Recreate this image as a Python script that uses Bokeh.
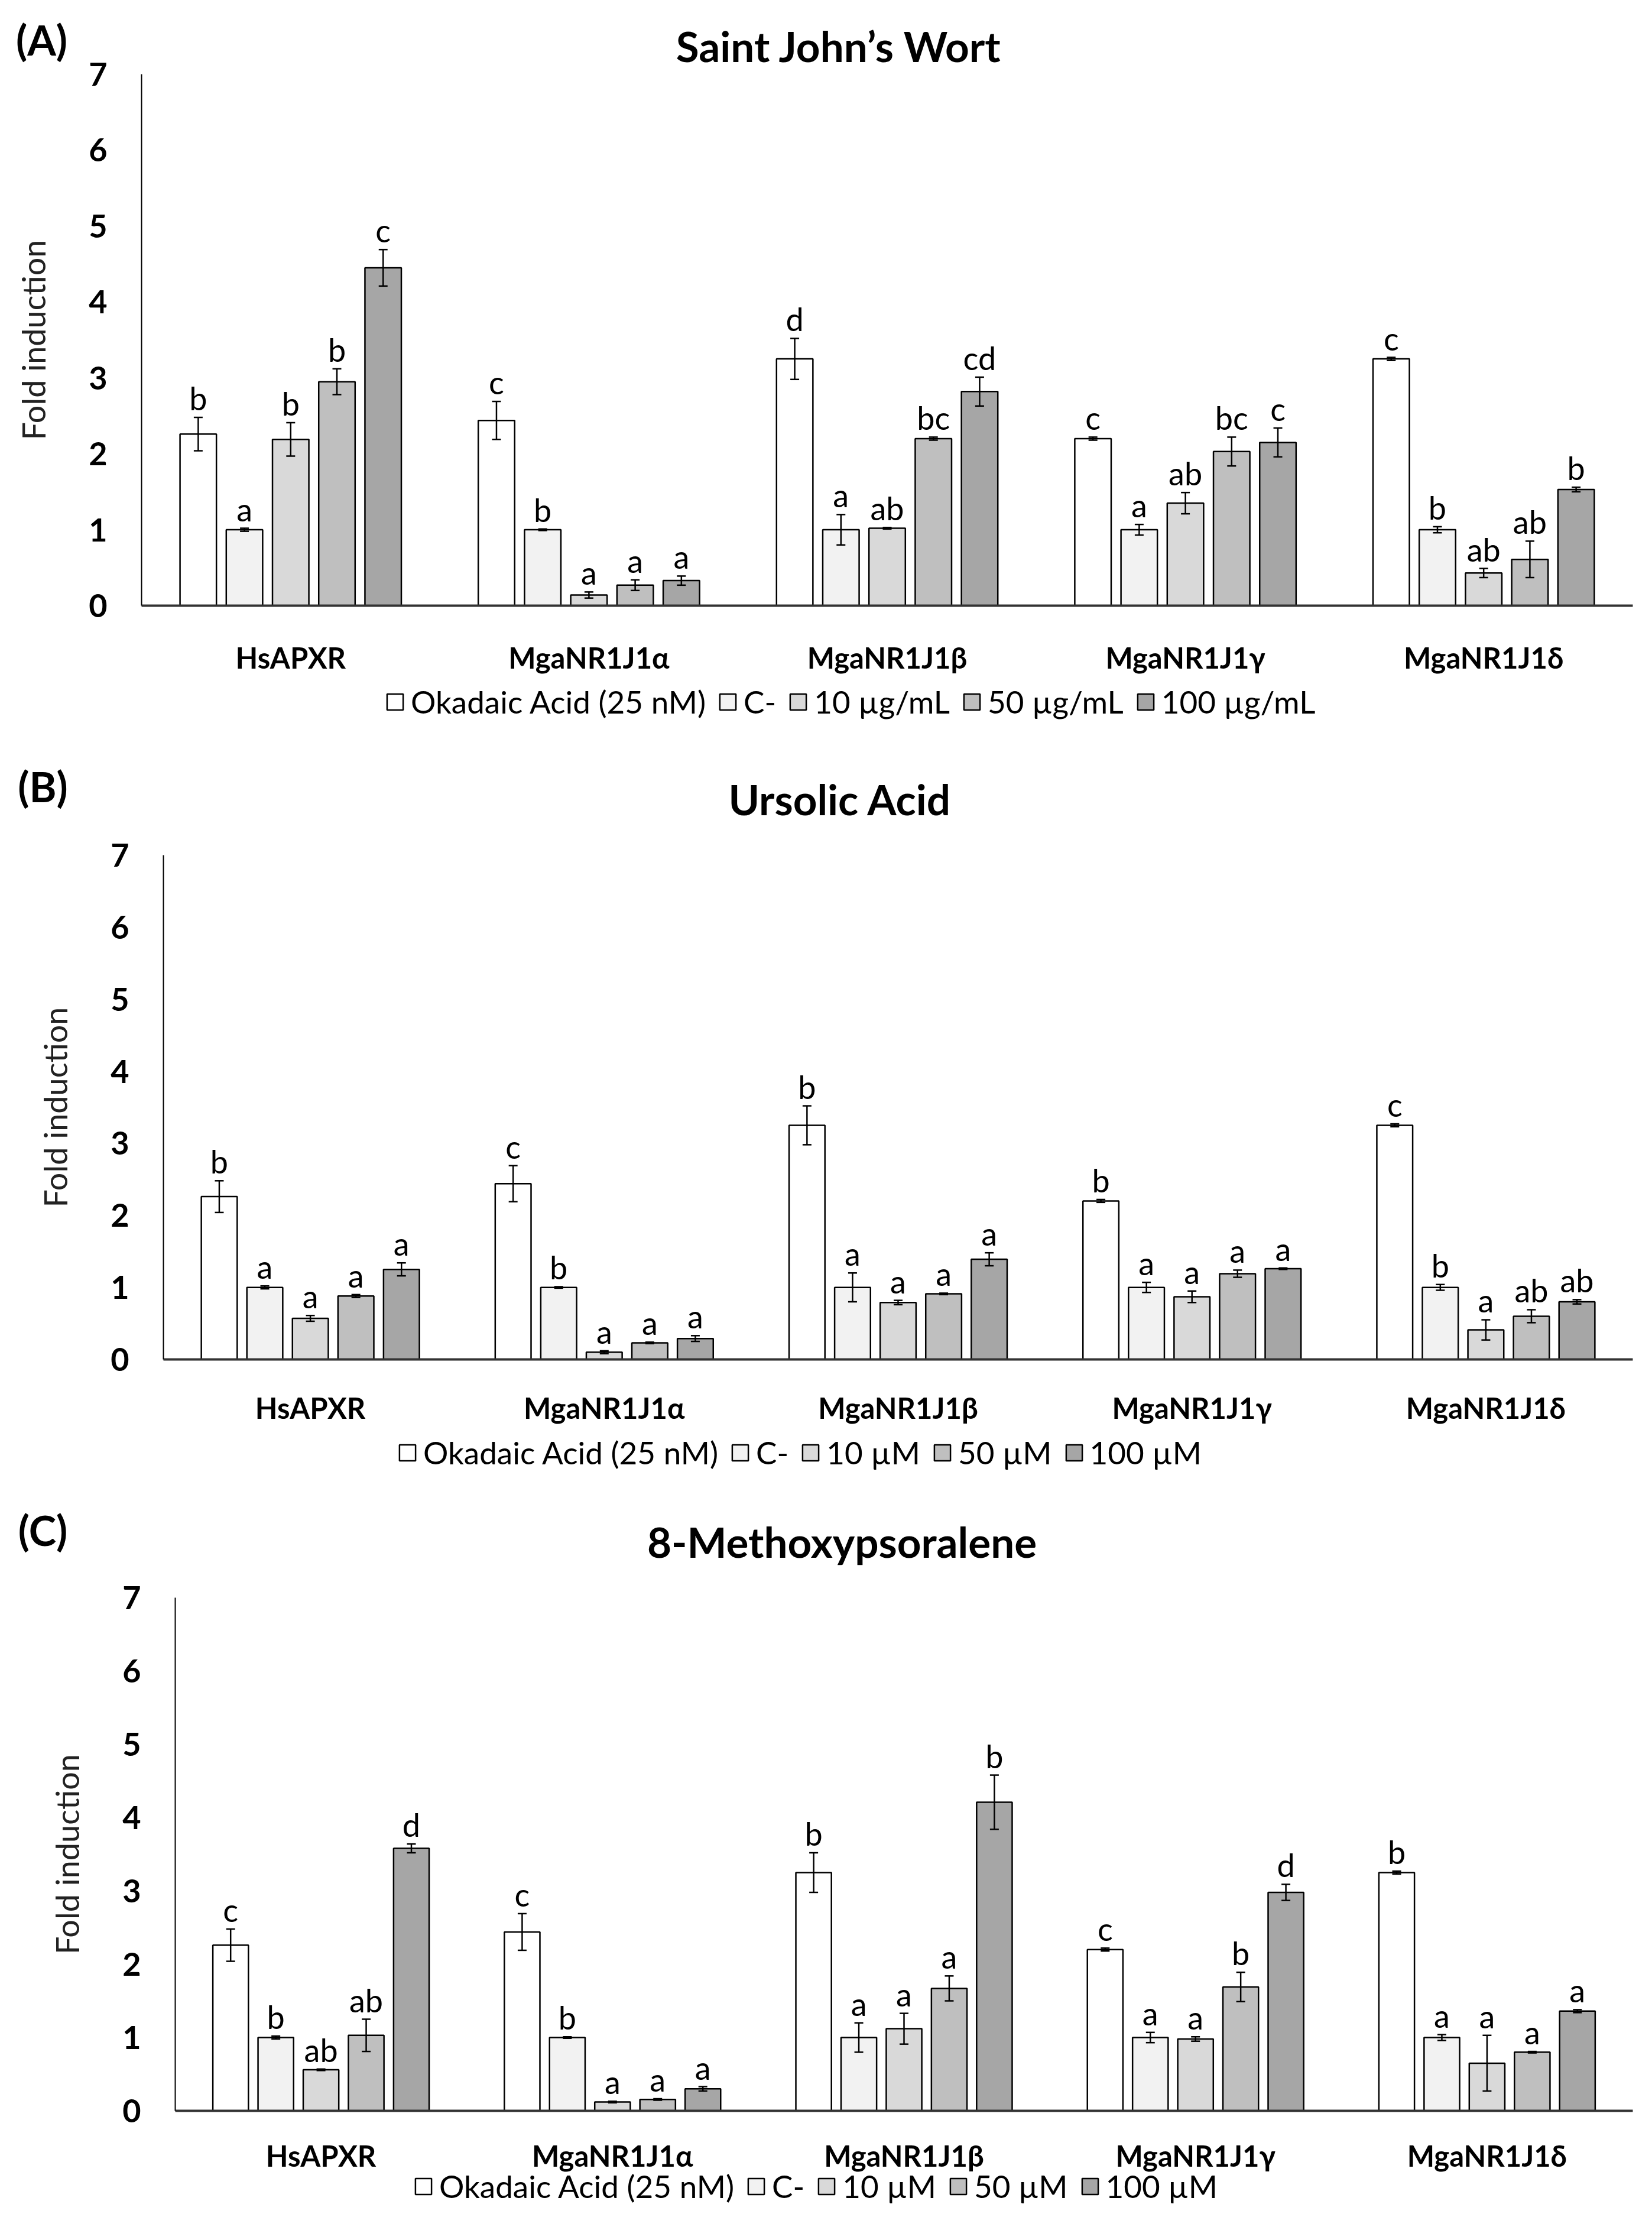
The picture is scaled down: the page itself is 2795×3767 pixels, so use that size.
from bokeh.plotting import figure
from bokeh.layouts import column
from bokeh.models import (ColumnDataSource, Range1d, FixedTicker, Whisker, TeeHead,
                          Legend, LegendItem, Label)
from bokeh.core.properties import value
from bokeh.embed import file_html
from bokeh.resources import INLINE
import numpy as np

# ---------------- data ----------------
genes = ["HsAPXR", "MgaNR1J1α", "MgaNR1J1β", "MgaNR1J1γ", "MgaNR1J1δ"]

okadaic = [2.26, 2.44, 3.25, 2.20, 3.25]
okadaic_err = [0.22, 0.25, 0.27, 0.02, 0.02]
control = [1.00, 1.00, 1.00, 1.00, 1.00]
control_err = [0.02, 0.01, 0.20, 0.07, 0.04]

# (A) Saint John's Wort
sjw_labels = ["Okadaic Acid (25 nM)", "C-", "10 µg/mL", "50 µg/mL", "100 µg/mL"]
sjw10 = [2.19, 0.14, 1.02, 1.35, 0.43]
sjw10_err = [0.22, 0.04, 0.01, 0.14, 0.06]
sjw50 = [2.95, 0.27, 2.20, 2.03, 0.61]
sjw50_err = [0.17, 0.07, 0.02, 0.19, 0.24]
sjw100 = [4.45, 0.33, 2.82, 2.15, 1.53]
sjw100_err = [0.24, 0.06, 0.19, 0.19, 0.03]
sjw_letters = [["b", "c", "d", "c", "c"],
               ["a", "b", "a", "a", "b"],
               ["b", "a", "ab", "ab", "ab"],
               ["b", "a", "bc", "bc", "ab"],
               ["c", "a", "cd", "c", "b"]]

# (B) Ursolic Acid
ua_labels = ["Okadaic Acid (25 nM)", "C-", "10 µM", "50 µM", "100 µM"]
ua10 = [0.57, 0.10, 0.79, 0.87, 0.41]
ua10_err = [0.04, 0.02, 0.03, 0.08, 0.14]
ua50 = [0.88, 0.23, 0.91, 1.19, 0.60]
ua50_err = [0.02, 0.01, 0.01, 0.05, 0.09]
ua100 = [1.25, 0.29, 1.39, 1.26, 0.80]
ua100_err = [0.09, 0.04, 0.09, 0.01, 0.03]
ua_letters = [["b", "c", "b", "b", "c"],
              ["a", "b", "a", "a", "b"],
              ["a", "a", "a", "a", "a"],
              ["a", "a", "a", "a", "ab"],
              ["a", "a", "a", "a", "ab"]]

# (C) 8-Methoxypsoralene
mop_labels = ["Okadaic Acid (25 nM)", "C-", "10 µM", "50 µM", "100 µM"]
mop10 = [0.56, 0.12, 1.12, 0.98, 0.65]
mop10_err = [0.01, 0.01, 0.21, 0.03, 0.38]
mop50 = [1.03, 0.155, 1.67, 1.69, 0.80]
mop50_err = [0.22, 0.01, 0.17, 0.20, 0.01]
mop100 = [3.58, 0.30, 4.21, 2.98, 1.36]
mop100_err = [0.06, 0.03, 0.37, 0.11, 0.02]
mop_letters = [["c", "c", "b", "c", "b"],
               ["b", "b", "a", "a", "a"],
               ["ab", "a", "a", "a", "a"],
               ["ab", "a", "a", "b", "a"],
               ["d", "a", "b", "d", "a"]]

# ---------------- style ----------------
FILLS = ["#FFFFFF", "#F2F2F2", "#D9D9D9", "#BFBFBF", "#A6A6A6"]
FONT = value("Lato")
W = 2779
AX_RIGHT = 2762
STEP = 0.155
BAR_W = 0.122


def make_panel(tag, title, labels, series, errors, letters, height,
               px7, px0, ax_left, title_px, tag_px, legend_px, cat_standoff):
    # layout helpers: pixel positions (inside the figure) of the axes corners
    ppu = (px0 - px7) / 7.0
    y_top = 7 + px7 / ppu
    y_bot = -(height - px0) / ppu
    xpu = (AX_RIGHT - ax_left) / 5.0
    x_start = -0.5 - ax_left / xpu
    x_end = 4.5 + (W - AX_RIGHT) / xpu

    def xd(px):
        return (px - ax_left) / xpu - 0.5

    def yd(px):
        return 7 - (px - px7) / ppu

    p = figure(width=W, height=height, output_backend="svg", toolbar_location=None,
               x_range=Range1d(x_start, x_end), y_range=Range1d(y_bot, y_top),
               min_border_top=0, min_border_left=0,
               min_border_bottom=0, min_border_right=0)
    p.title.visible = False
    p.outline_line_color = None
    p.background_fill_color = "white"
    p.border_fill_color = "white"
    p.xgrid.grid_line_color = None
    p.ygrid.grid_line_color = None

    items = []
    idx = np.arange(len(genes))
    for k, (vals, errs, lets) in enumerate(zip(series, errors, letters)):
        x = idx + (k - 2) * STEP
        top = np.array(vals)
        e = np.array(errs)
        src = ColumnDataSource(dict(x=x, top=top, up=top + e, lo=top - e, lab=lets))
        r = p.vbar(x="x", top="top", width=BAR_W, bottom=0, source=src,
                   fill_color=FILLS[k], line_color="black", line_width=2.5)
        items.append(LegendItem(label=labels[k], renderers=[r]))
        wk = Whisker(base="x", upper="up", lower="lo", source=src, level="annotation",
                     line_color="black", line_width=2.5,
                     upper_head=TeeHead(size=15, line_width=2.5, line_color="black"),
                     lower_head=TeeHead(size=15, line_width=2.5, line_color="black"))
        p.add_layout(wk)
        p.text(x="x", y="up", text="lab", source=src, text_align="center",
               text_baseline="bottom", y_offset=0, text_font=FONT,
               text_font_size="54px", text_color="black")

    # x axis fixed at y = 0
    p.xaxis.fixed_location = 0
    p.xaxis.bounds = (-0.5, 4.5)
    p.xaxis.ticker = FixedTicker(ticks=list(range(len(genes))))
    p.xaxis.major_label_overrides = {i: g for i, g in enumerate(genes)}
    p.xaxis.major_label_text_font = "Lato"
    p.xaxis.major_label_text_font_style = "bold"
    p.xaxis.major_label_text_font_size = "49px"
    p.xaxis.major_label_text_color = "black"
    p.xaxis.major_label_standoff = cat_standoff
    p.xaxis.major_tick_line_color = None
    p.xaxis.minor_tick_line_color = None
    p.xaxis.axis_line_width = 4
    p.xaxis.axis_line_color = "#333333"

    # y axis fixed at the left end of the category axis
    p.yaxis.fixed_location = -0.5
    p.yaxis.bounds = (0, 7)
    p.yaxis.ticker = FixedTicker(ticks=list(range(8)))
    p.yaxis.major_label_text_font = "Lato"
    p.yaxis.major_label_text_font_style = "bold"
    p.yaxis.major_label_text_font_size = "54px"
    p.yaxis.major_label_text_color = "black"
    p.yaxis.major_label_standoff = 52
    p.yaxis.major_tick_line_color = None
    p.yaxis.minor_tick_line_color = None
    p.yaxis.axis_line_width = 2
    p.yaxis.axis_line_color = "black"
    p.yaxis.axis_label = "Fold induction"
    p.yaxis.axis_label_text_font = "Lato"
    p.yaxis.axis_label_text_font_style = "normal"
    p.yaxis.axis_label_text_font_size = "54px"
    p.yaxis.axis_label_text_color = "#222222"
    p.yaxis.axis_label_standoff = 58

    legend = Legend(items=items, orientation="horizontal",
                    location=(legend_px[0], height - legend_px[1]),
                    label_text_font="Lato", label_text_font_size="53px",
                    label_text_color="black", glyph_width=34, glyph_height=34,
                    label_standoff=10, spacing=20, padding=0, margin=0,
                    border_line_color=None, background_fill_alpha=0)
    p.add_layout(legend, "center")

    p.add_layout(Label(x=xd(title_px[0]), y=yd(title_px[1]), text=title,
                       text_font="Lato", text_font_style="bold", text_font_size="71px",
                       text_align="center", text_baseline="middle", text_color="black"))
    p.add_layout(Label(x=xd(tag_px[0]), y=yd(tag_px[1]), text=tag,
                       text_font="Lato", text_font_style="bold", text_font_size="70px",
                       text_align="center", text_baseline="middle", text_color="black"))
    return p


# figure A: page y 0..1285, B: 1285..2545, C: 2545..3751
pA = make_panel("(A)", "Saint John’s Wort", sjw_labels,
                [okadaic, control, sjw10, sjw50, sjw100],
                [okadaic_err, control_err, sjw10_err, sjw50_err, sjw100_err],
                sjw_letters, 1285, 125, 1024, 239,
                (1419, 77), (70, 66), (651, 1218), 52)
pB = make_panel("(B)", "Ursolic Acid", ua_labels,
                [okadaic, control, ua10, ua50, ua100],
                [okadaic_err, control_err, ua10_err, ua50_err, ua100_err],
                ua_letters, 1260, 161, 1014, 276,
                (1421, 66), (72, 44), (672, 1203), 46)
pC = make_panel("(C)", "8-Methoxypsoralene", mop_labels,
                [okadaic, control, mop10, mop50, mop100],
                [okadaic_err, control_err, mop10_err, mop50_err, mop100_err],
                mop_letters, 1206, 157, 1025, 296,
                (1424, 62), (72, 42), (699, 1184), 40)

layout = column(pA, pB, pC, spacing=0)
open("out.html", "w").write(file_html(layout, INLINE))
